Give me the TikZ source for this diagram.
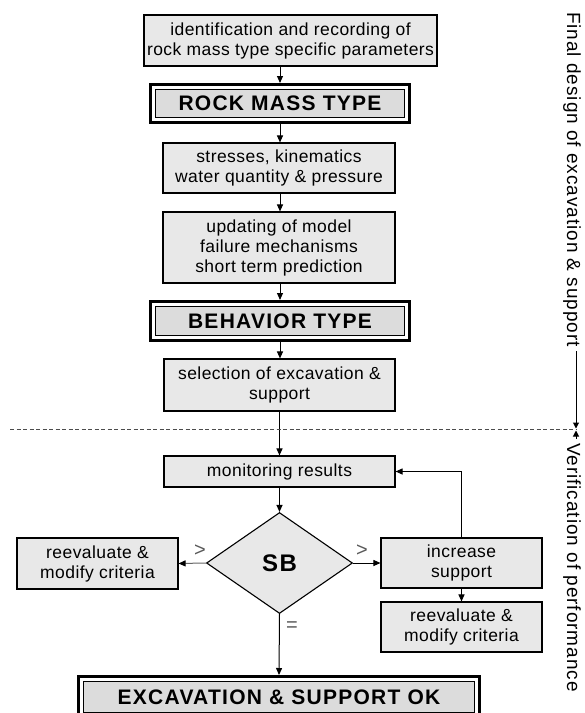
\documentclass[tikz,border=0pt]{standalone}
\usepackage{fontspec}
\setmainfont{Liberation Sans}
\newfontfamily\bxfont[LetterSpace=2.5]{Liberation Sans}
\newfontfamily\ttlfont[LetterSpace=6]{Liberation Sans}
\newfontfamily\sidefont[LetterSpace=5]{Liberation Sans}
\usetikzlibrary{arrows.meta,shapes.geometric,fit}
\definecolor{boxfill}{HTML}{E8E8E8}
\definecolor{boldfill}{HTML}{DCDCDC}
\begin{document}
\begin{tikzpicture}[x=1pt,y=-1pt,
  box/.style={draw, line width=1.1pt, fill=boxfill, align=center, inner sep=0pt,
              font=\bxfont\fontsize{17.5}{20}\selectfont},
  titlebox/.style={draw, line width=1pt, fill=boldfill, inner sep=0pt,
              font=\ttlfont\bfseries\fontsize{21}{24}\selectfont},
  frame/.style={draw, line width=3pt, inner sep=4.5pt},
  arr/.style={-{Triangle[length=7pt,width=6pt]}, line width=1pt},
  lbl/.style={inner sep=0pt, font=\fontsize{20}{22}\selectfont, text=black!65},
  side/.style={rotate=-90, inner sep=0pt, font=\sidefont\fontsize{19}{22}\selectfont},
  sep/.style={draw=black!70, line width=0.8pt, dash pattern=on 4pt off 2.5pt}]
\useasboundingbox (0,0) rectangle (585,713);
\clip (0,0) rectangle (585,713);

% boxes
\node[box, minimum width=293pt, minimum height=51pt] (b1) at (290.5,40.5)
  {identification and recording of\\rock mass type specific parameters};
\node[titlebox, minimum width=249pt, minimum height=28pt] (rmt) at (280,103.5) {ROCK MASS TYPE};
\node[frame, fit=(rmt)] (rmtf) {};
\node[box, minimum width=232pt, minimum height=50pt] (b3) at (279,168)
  {stresses, kinematics\\water quantity \& pressure};
\node[box, minimum width=232pt, minimum height=71pt] (b4) at (279,247.5)
  {updating of model\\failure mechanisms\\short term prediction};
\node[titlebox, minimum width=249pt, minimum height=29pt] (bt) at (280,321) {BEHAVIOR TYPE};
\node[frame, fit=(bt)] (btf) {};
\node[box, minimum width=231pt, minimum height=52pt] (b5) at (279.5,385)
  {selection of excavation \&\\support};
\node[box, minimum width=231pt, minimum height=31pt] (mon) at (279.5,471.5) {monitoring results};
\node[draw, diamond, line width=1.1pt, fill=boxfill, minimum width=146pt, minimum height=101pt,
      inner sep=0pt, font=\ttlfont\bfseries\fontsize{24}{26}\selectfont] (dia) at (279.5,563) {SB};
\node[box, minimum width=161pt, minimum height=51pt] (lb) at (97.5,563.5)
  {reevaluate \&\\modify criteria};
\node[box, minimum width=161pt, minimum height=50pt] (inc) at (461.5,563)
  {increase\\support};
\node[box, minimum width=161pt, minimum height=50pt] (rb) at (461.5,627)
  {reevaluate \&\\modify criteria};
\node[titlebox, minimum width=391pt, minimum height=31pt] (ok) at (279,697) {EXCAVATION \& SUPPORT OK};
\node[frame, fit=(ok)] (okf) {};

% connectors
\draw[arr] (b1.south -| rmtf.north) -- (rmtf.north);
\draw[arr] (rmtf.south) -- (rmtf.south |- b3.north);
\draw[arr] (b3.south -| rmtf.south) -- (rmtf.south |- b4.north);
\draw[arr] (b4.south -| btf.north) -- (btf.north);
\draw[arr] (btf.south) -- (btf.south |- b5.north);
\draw[arr] (b5.south) -- (mon.north);
\draw[arr] (mon.south) -- (dia.north);
\draw[line width=1pt, draw=black!60, -{Triangle[length=7pt,width=6pt,color=black]}] (dia.west) -- (lb.east);
\draw[arr] (dia.east) -- (inc.west);
\draw[arr] (inc.north) |- (mon.east);
\draw[arr] (inc.south) -- (rb.north);
\draw[arr] (dia.south) -- (okf.north);

% labels
\node[lbl] (gtl) at (200,551) {>};
\node[lbl] (gtr) at (362,551) {>};
\node[lbl] (eq) at (292,627) {=};

% separator
\coordinate (dl) at (10,429);
\coordinate (dr) at (577,429);
\draw[sep] (dl) -- (dr);

% side annotations
\node[side, anchor=base west] (fd) at (567,12) {Final design of excavation \& support};
\node[side, anchor=base east] (vp) at (567,692) {Verification of performance};
\coordinate (tipA) at (576,428.5);
\coordinate (tipB) at (576,430.5);
\draw[line width=1pt, -{Triangle[length=6pt,width=6pt]}, shorten <=4pt] (fd.east -| tipA) -- (tipA);
\draw[line width=1pt, -{Triangle[length=6pt,width=6pt]}, shorten <=4pt] (vp.west -| tipB) -- (tipB);
\end{tikzpicture}
\end{document}
